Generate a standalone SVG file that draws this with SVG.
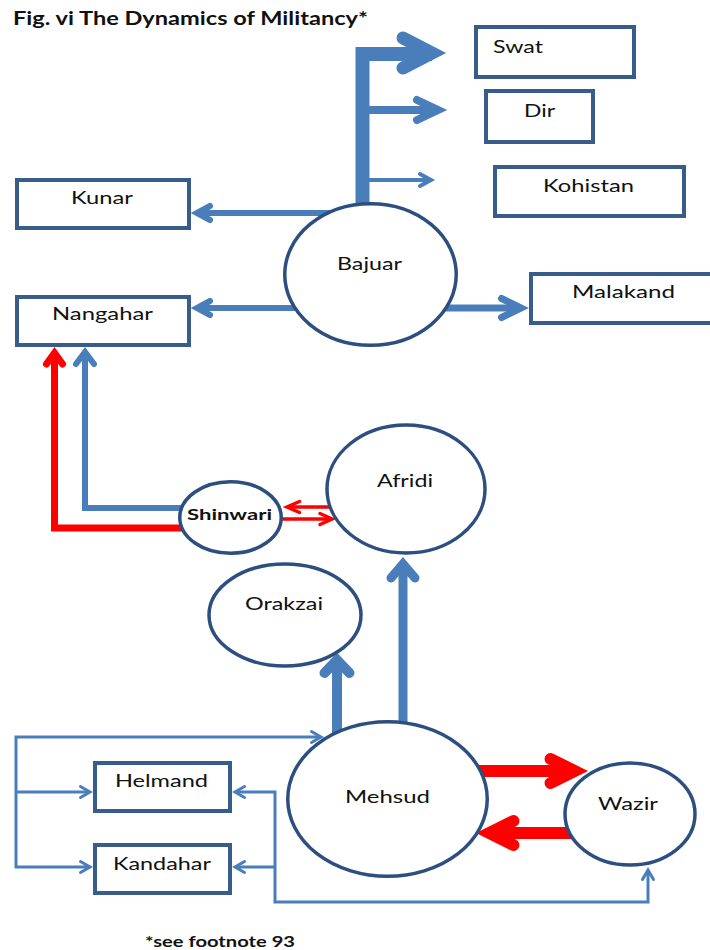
<svg xmlns="http://www.w3.org/2000/svg" width="710" height="950" viewBox="0 0 710 950">
<style>
.bg{fill:#ffffff}
.b{stroke:#4A7EBB;fill:none}
.r{stroke:#FF0000;fill:none}
.h{stroke-linejoin:miter;stroke-linecap:round;stroke-miterlimit:10}
.box{fill:#ffffff;stroke:#385D8A;stroke-width:4}
.circ{fill:#ffffff;stroke:#2C4F80;stroke-width:3.5}
.t{font-family:Lato,"Open Sans","Liberation Sans",sans-serif;font-size:18px;fill:#111111}
.tb{font-family:Lato,"Open Sans","Liberation Sans",sans-serif;font-weight:bold;fill:#111111}
</style>
<rect class="bg" x="0" y="0" width="710" height="950"/>
<text class="tb" x="13" y="25" font-size="18" textLength="355" lengthAdjust="spacingAndGlyphs">Fig. vi The Dynamics of Militancy*</text>
<g id="connectors">
  <path class="b" stroke-width="14" stroke-linejoin="miter" d="M362.5,212 V54 H432"/>
  <polyline class="b h" stroke-width="13" points="403,38 432,53 403,68"/>
  <path class="b" stroke-width="8" d="M362,110 H438"/>
  <polyline class="b h" stroke-width="8" points="417,100 438,110 417,120"/>
  <path class="b" stroke-width="4" d="M362,180 H430"/>
  <polyline class="b h" stroke-width="4" points="420,174 431,180 420,186"/>
  <path class="b" stroke-width="6" d="M330,213 H198"/>
  <polyline class="b h" stroke-width="6" points="210,206 197,213 210,220"/>
  <path class="b" stroke-width="6" d="M300,308 H198"/>
  <polyline class="b h" stroke-width="6" points="210,301 197,308 210,315"/>
  <path class="b" stroke-width="7" d="M440,308 H520"/>
  <polyline class="b h" stroke-width="7" points="501.5,298.5 521,308 501.5,317.5"/>
  <path class="r" stroke-width="7" stroke-linejoin="miter" d="M184,528 H54.5 V354"/>
  <polyline class="r h" stroke-width="7" points="46.5,364 54.5,353 62.5,364"/>
  <path class="b" stroke-width="6" stroke-linejoin="miter" d="M186,508 H85 V353"/>
  <polyline class="b h" stroke-width="6" points="76,364 85,352 94,364"/>
  <path class="r" stroke-width="3.5" d="M335,507 H288"/>
  <polyline class="r h" stroke-width="3.5" points="299.5,501.5 287,507 299.5,512.5"/>
  <path class="r" stroke-width="3.5" d="M278,519 H331"/>
  <polyline class="r h" stroke-width="3.5" points="320,513.5 332,519 320,524.5"/>
  <path class="b" stroke-width="10" d="M337,740 V661"/>
  <polyline class="b h" stroke-width="10" points="324.5,673 337,660 349.5,673"/>
  <path class="b" stroke-width="9" d="M403,730 V565"/>
  <polyline class="b h" stroke-width="9" points="391,578 403,564 415,578"/>
  <path class="b" stroke-width="3" d="M320,737 H16 V867 H89 M16,792 H89 M236,792 H275 V902 H648 V871 M275,867 H236"/>
  <polyline class="b h" stroke-width="3" points="311.5,731.5 321,737 311.5,742.5"/>
  <polyline class="b h" stroke-width="3" points="80.5,786.5 90,792 80.5,797.5"/>
  <polyline class="b h" stroke-width="3" points="80.5,861.5 90,867 80.5,872.5"/>
  <polyline class="b h" stroke-width="3" points="244.5,786.5 235,792 244.5,797.5"/>
  <polyline class="b h" stroke-width="3" points="244.5,861.5 235,867 244.5,872.5"/>
  <polyline class="b h" stroke-width="3" points="642.5,879.5 648,870 653.5,879.5"/>
  <path class="r" stroke-width="12" d="M470,771 H574"/>
  <polyline class="r h" stroke-width="12" points="550.6,759 574.6,771 550.6,783"/>
  <path class="r" stroke-width="12" d="M578,833 H490"/>
  <polyline class="r h" stroke-width="12" points="513.4,821 489.4,833 513.4,845"/>
</g>
<g id="swat"><rect class="box" x="476" y="27" width="158" height="50"/><text class="t" x="493" y="53" textLength="50" lengthAdjust="spacingAndGlyphs">Swat</text></g>
<g id="dir"><rect class="box" x="486" y="91" width="107" height="51"/><text class="t" x="524" y="117" textLength="31" lengthAdjust="spacingAndGlyphs">Dir</text></g>
<g id="kohistan"><rect class="box" x="495" y="167" width="189" height="49"/><text class="t" x="543" y="192" textLength="91" lengthAdjust="spacingAndGlyphs">Kohistan</text></g>
<g id="kunar"><rect class="box" x="17" y="180" width="172" height="48"/><text class="t" x="71" y="204" textLength="62" lengthAdjust="spacingAndGlyphs">Kunar</text></g>
<g id="nangahar"><rect class="box" x="17" y="297" width="172" height="48"/><text class="t" x="52" y="320" textLength="101" lengthAdjust="spacingAndGlyphs">Nangahar</text></g>
<g id="malakand"><rect class="box" x="531" y="274" width="190" height="49"/><text class="t" x="572" y="298" textLength="103" lengthAdjust="spacingAndGlyphs">Malakand</text></g>
<g id="bajuar"><ellipse class="circ" cx="370.5" cy="274.5" rx="85.75" ry="70.75"/><text class="t" x="337" y="270" textLength="65" lengthAdjust="spacingAndGlyphs">Bajuar</text></g>
<g id="afridi"><ellipse class="circ" cx="406" cy="489" rx="79" ry="64"/><text class="t" x="377" y="487" textLength="56" lengthAdjust="spacingAndGlyphs">Afridi</text></g>
<g id="shinwari"><ellipse class="circ" cx="230.5" cy="517.5" rx="50.75" ry="35.75"/><text class="tb" x="187" y="520" font-size="16" textLength="85" lengthAdjust="spacingAndGlyphs">Shinwari</text></g>
<g id="orakzai"><ellipse class="circ" cx="285" cy="615" rx="76" ry="51"/><text class="t" x="245" y="610" textLength="78" lengthAdjust="spacingAndGlyphs">Orakzai</text></g>
<g id="mehsud"><ellipse class="circ" cx="387.5" cy="799" rx="99.75" ry="77.25"/><text class="t" x="345" y="803" textLength="85" lengthAdjust="spacingAndGlyphs">Mehsud</text></g>
<g id="wazir"><ellipse class="circ" cx="630" cy="814" rx="65" ry="51"/><text class="t" x="598" y="810" textLength="60" lengthAdjust="spacingAndGlyphs">Wazir</text></g>
<g id="helmand"><rect class="box" x="95" y="763" width="135" height="48"/><text class="t" x="115" y="787" textLength="93" lengthAdjust="spacingAndGlyphs">Helmand</text></g>
<g id="kandahar"><rect class="box" x="95" y="845" width="135" height="48"/><text class="t" x="113" y="870" textLength="98" lengthAdjust="spacingAndGlyphs">Kandahar</text></g>
<text class="tb" x="145" y="947" font-size="15" textLength="150" lengthAdjust="spacingAndGlyphs">*see footnote 93</text>
</svg>
